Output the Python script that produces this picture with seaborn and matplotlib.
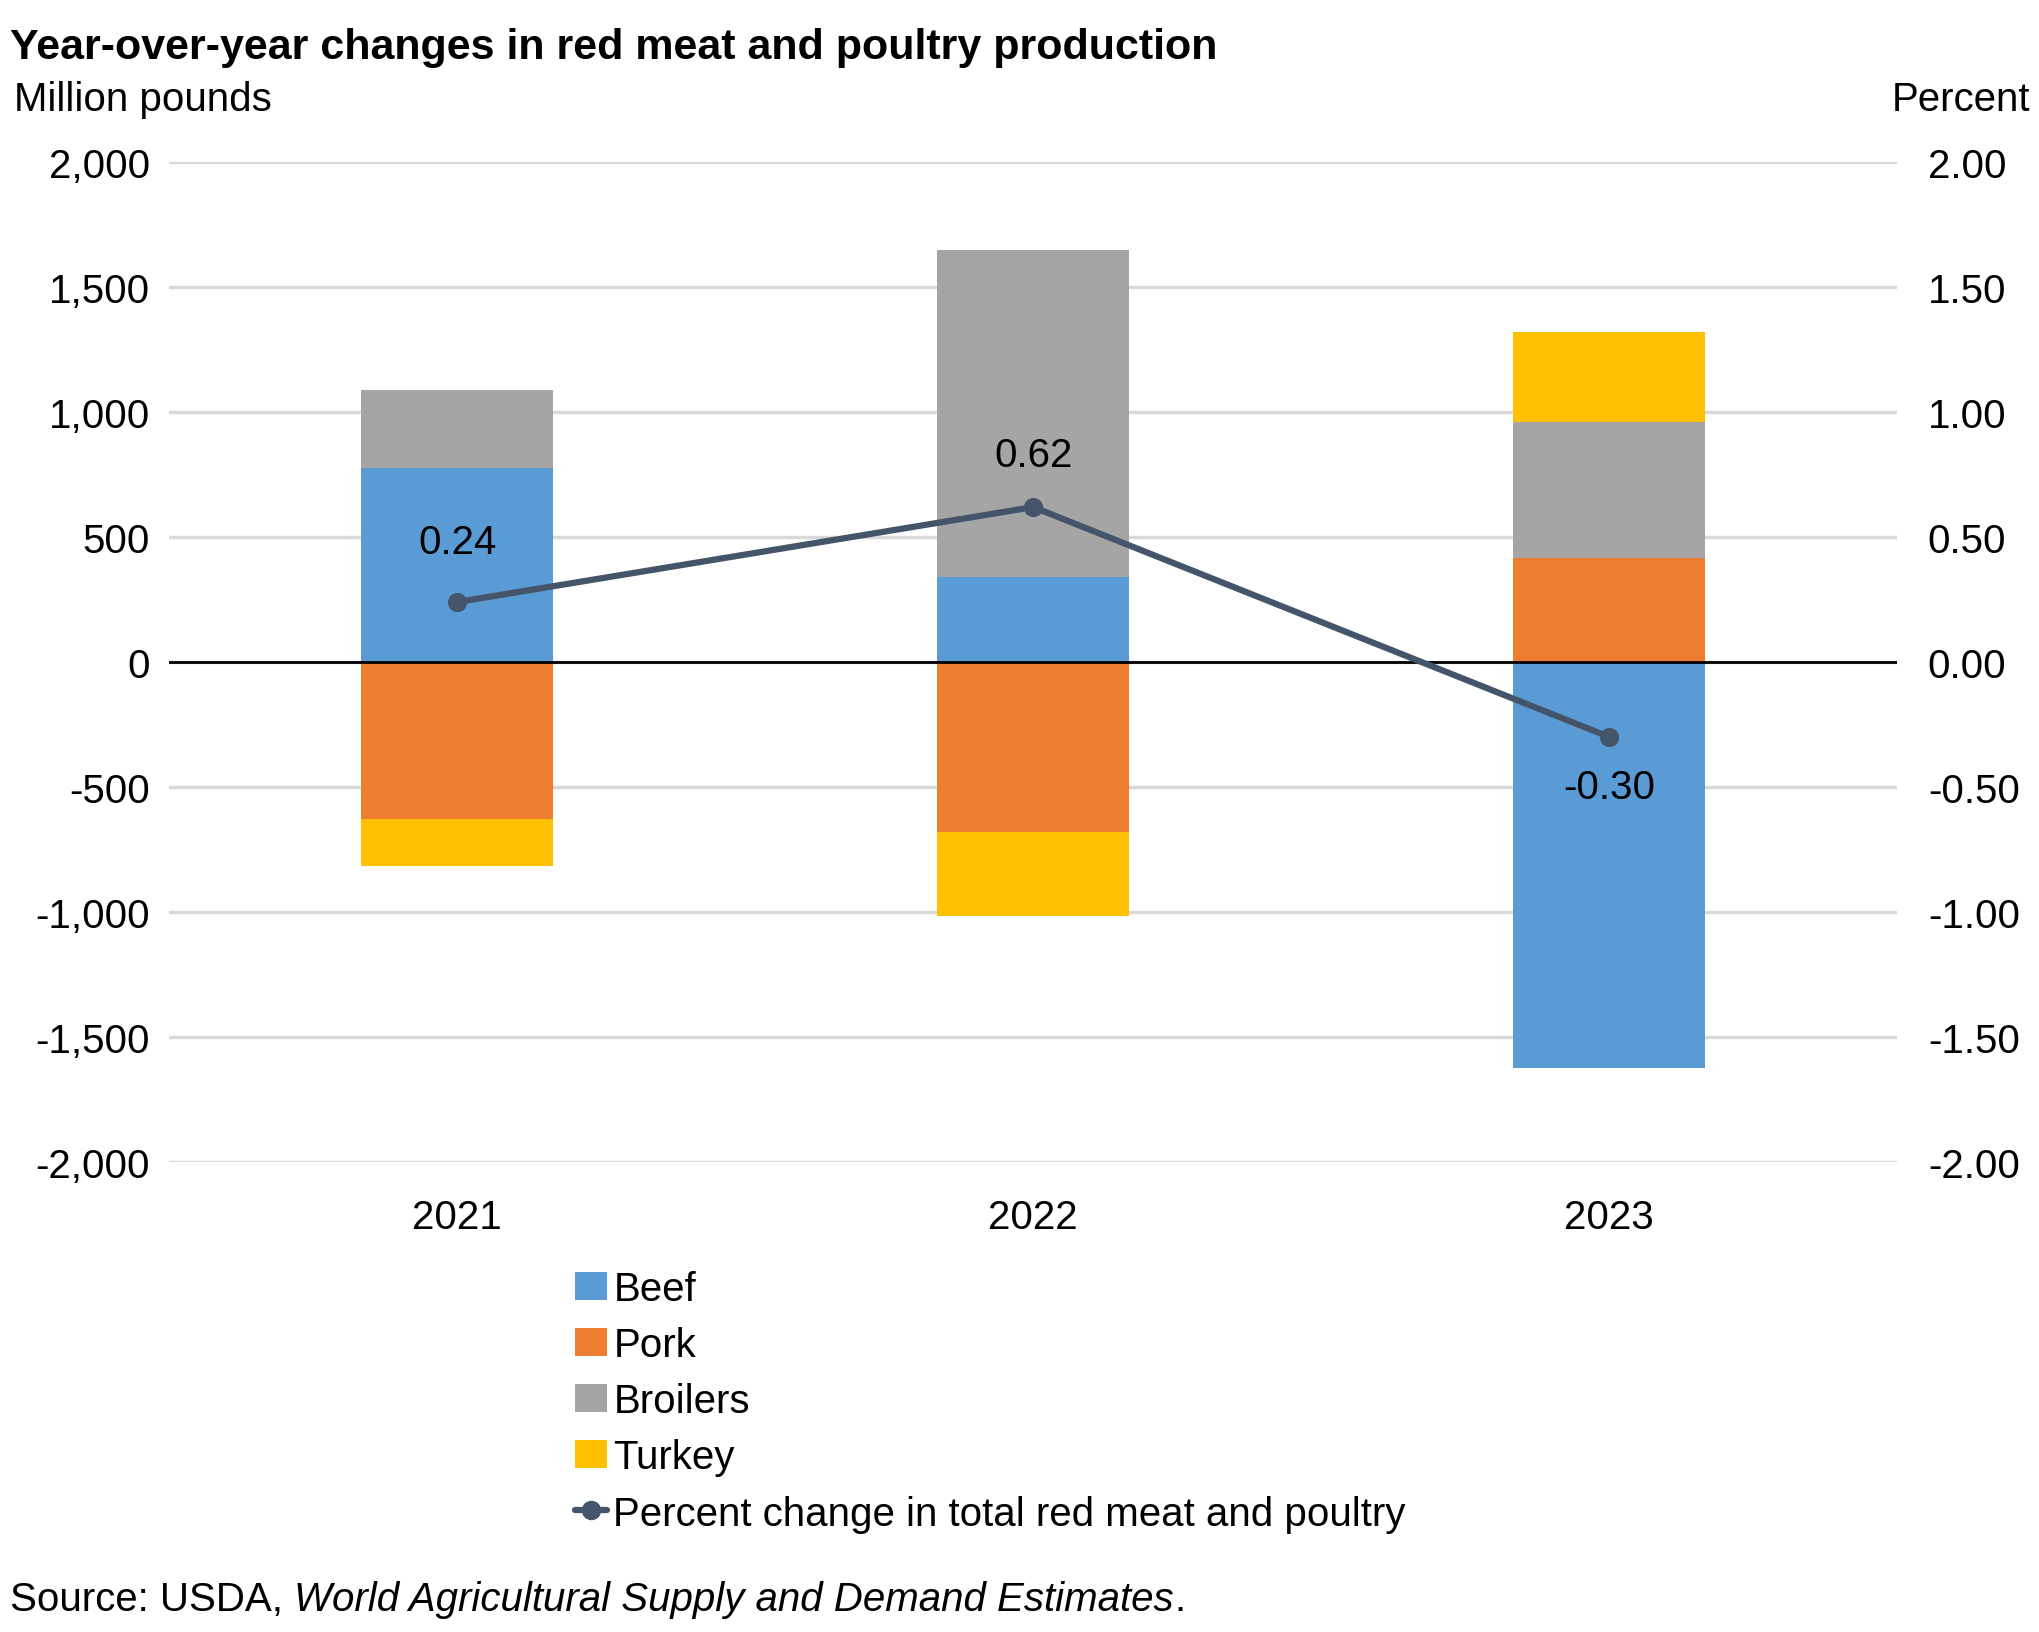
import matplotlib
matplotlib.use("Agg")
import matplotlib.pyplot as plt
import seaborn as sns
import numpy as np
import pandas as pd
from matplotlib.lines import Line2D
from matplotlib.patches import Patch

years = ["2021", "2022", "2023"]
beef = [775, 340, -1625]
pork = [-630, -680, 415]
broilers = [315, 1310, 545]
turkey = [-185, -335, 360]
pct = [0.24, 0.62, -0.30]
series = {"Beef": beef, "Pork": pork, "Broilers": broilers, "Turkey": turkey}
colors = {"Beef": "#5B9BD5", "Pork": "#ED7D31", "Broilers": "#A5A5A5", "Turkey": "#FFC000"}
line_color = "#44546A"

sns.set_theme(style="white")
plt.rcParams['font.family'] = ['Liberation Sans', 'DejaVu Sans']
plt.rcParams['text.color'] = 'black'
plt.rcParams['xtick.color'] = 'black'
plt.rcParams['ytick.color'] = 'black'

FS = 29
fig = plt.figure(figsize=(20.4, 16.33), dpi=100)
ax = fig.add_axes([0.083, 0.288, 0.847, 0.612])
x = np.arange(len(years))
pos_b = np.zeros(3); neg_b = np.zeros(3)
for name, vals in series.items():
    v = np.array(vals, dtype=float)
    bottoms = np.where(v >= 0, pos_b, neg_b)
    ax.bar(x, v, 0.334, bottom=bottoms, color=colors[name], linewidth=0, zorder=3)
    pos_b += np.where(v >= 0, v, 0); neg_b += np.where(v < 0, v, 0)

ax.set_xlim(-0.5, 2.5)
ax.set_ylim(-2000, 2000)
ax.set_yticks(np.arange(-2000, 2001, 500))
ax.set_yticklabels([f"{t:,}" for t in range(-2000, 2001, 500)])
ax.set_xticks(x); ax.set_xticklabels(years)
ax.yaxis.grid(True, color="#D9D9D9", linewidth=2.5, zorder=0)
ax.axhline(0, color="black", linewidth=2, zorder=4)
for s in ax.spines.values(): s.set_visible(False)
ax.tick_params(axis="both", labelsize=FS, length=0, pad=14)
ax.tick_params(axis="x", pad=26)

ax2 = ax.twinx()
df = pd.DataFrame({"x": x, "pct": pct})
sns.lineplot(data=df, x="x", y="pct", ax=ax2, color=line_color, linewidth=4.5,
             marker="o", markersize=13, markeredgecolor=line_color, zorder=5)
ax2.set_ylim(-2, 2)
ax2.set_yticks(np.arange(-2, 2.01, 0.5))
ax2.set_yticklabels([f"{t:.2f}" for t in np.arange(-2, 2.01, 0.5)])
ax2.set_xlim(-0.5, 2.5)
ax2.set_xlabel(""); ax2.set_ylabel("")
for s in ax2.spines.values(): s.set_visible(False)
ax2.tick_params(axis="y", labelsize=FS, length=0, pad=22)
offs = [0.24, 0.21, -0.2]
for xi, p, o in zip(x, pct, offs):
    ax2.text(xi, p + o, f"{p:.2f}", ha="center", va="center", fontsize=FS, zorder=6)

fig.text(0.005, 0.983, "Year-over-year changes in red meat and poultry production",
         fontsize=31, fontweight="bold", va="top", ha="left")
fig.text(0.007, 0.939, "Million pounds", fontsize=FS, va="center", ha="left")
fig.text(0.995, 0.939, "Percent", fontsize=FS, va="center", ha="right")

fig.canvas.draw()
r = fig.canvas.get_renderer()
t1 = fig.text(0.005, 0.02, "Source: USDA, ", fontsize=FS, va="center", ha="left")
w1 = t1.get_window_extent(r).x1 / fig.bbox.width
t2 = fig.text(w1, 0.02, "World Agricultural Supply and Demand Estimates", fontsize=FS,
              va="center", ha="left", style="italic")
w2 = t2.get_window_extent(r).x1 / fig.bbox.width
fig.text(w2, 0.02, ".", fontsize=FS, va="center", ha="left")

handles = [Patch(color=colors[n], linewidth=0) for n in series] + \
    [Line2D([0], [0], color=line_color, lw=4.5, marker="o", markersize=13)]
labels = list(series.keys()) + ["Percent change in total red meat and poultry"]
fig.legend(handles, labels, loc="upper left", bbox_to_anchor=(0.272, 0.234),
           frameon=False, fontsize=FS, handlelength=0.8, handletextpad=0.15,
           labelspacing=0.45, borderpad=0)

fig.savefig("out.png", dpi=100)
